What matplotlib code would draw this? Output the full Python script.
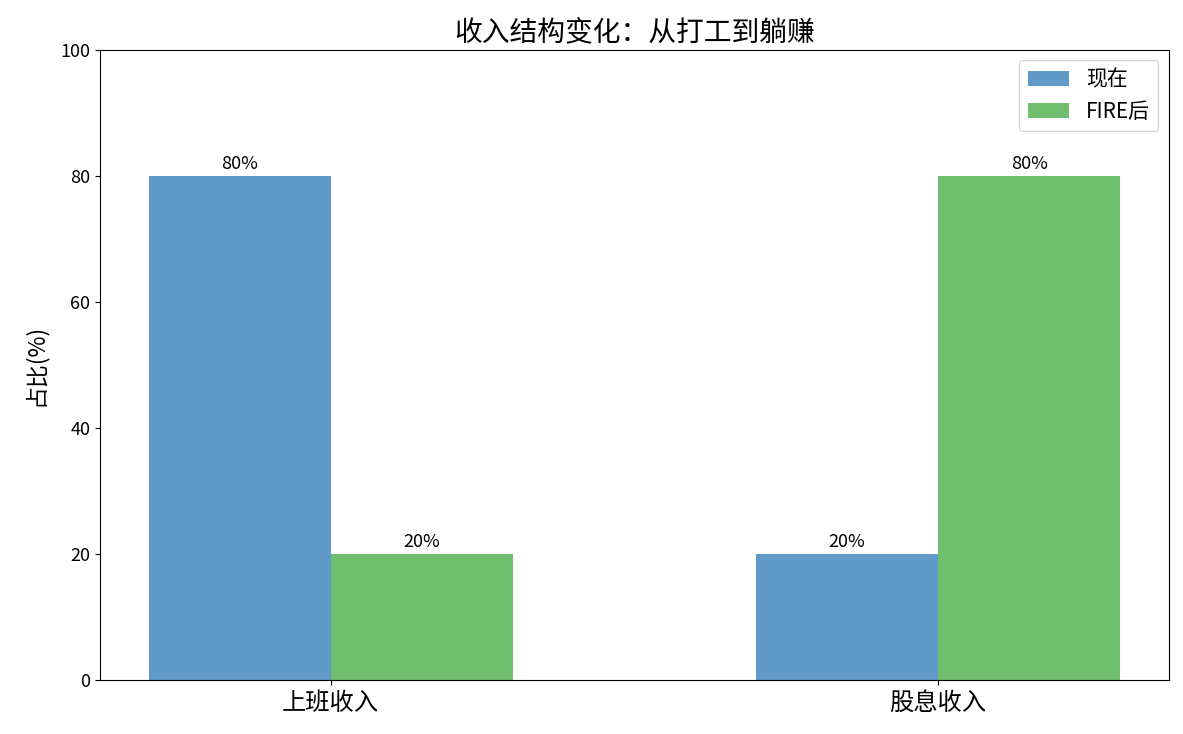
import numpy as np
import matplotlib.pyplot as plt

plt.rcParams['font.family'] = ['Noto Sans CJK SC', 'DejaVu Sans']

categories = ['上班收入', '股息收入']
now_vals = [80, 20]
fire_vals = [20, 80]
series_names = ['现在', 'FIRE后']

x = np.arange(len(categories))
w = 0.3

fig, ax = plt.subplots(figsize=(11.83, 7.34), dpi=100)
fig.subplots_adjust(left=0.0845, right=0.988, top=0.932, bottom=0.0736)

b1 = ax.bar(x - w / 2, now_vals, w, color='#5f9ac8', label=series_names[0])
b2 = ax.bar(x + w / 2, fire_vals, w, color='#70bf6e', label=series_names[1])

for bars in (b1, b2):
    for r in bars:
        ax.text(r.get_x() + r.get_width() / 2, r.get_height() + 0.4,
                f'{r.get_height():.0f}%', ha='center', va='bottom', fontsize=13)

ax.set_xticks(x)
ax.set_xticklabels(categories, fontsize=17.5)
ax.set_ylim(0, 100)
ax.tick_params(axis='y', labelsize=13)
ax.set_ylabel('占比(%)', fontsize=16.5, labelpad=10)
ax.set_title('收入结构变化：从打工到躺赚', fontsize=20, pad=6)
ax.legend(fontsize=15, loc='upper right')

plt.savefig('out.png')
